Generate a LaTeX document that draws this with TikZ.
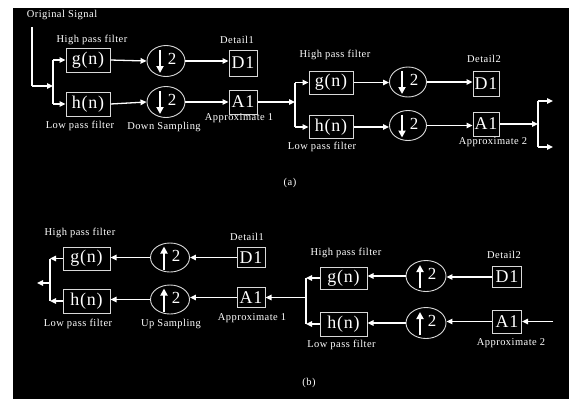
\documentclass[tikz,border=0pt]{standalone}
\usepackage{fontspec}
\setmainfont{Liberation Serif}
\newfontfamily\lblfont[LetterSpace=4.5]{Liberation Serif}
\newfontfamily\boxfont[LetterSpace=4]{Liberation Serif}
\usetikzlibrary{arrows.meta,shapes.geometric,calc}
\begin{document}
\begin{tikzpicture}[x=1bp,y=-1bp,
  box/.style={draw=white!85!black, line width=1bp, inner sep=0pt, text=white, font=\boxfont\fontsize{18}{18}\selectfont},
  sampler/.style={ellipse, draw=white!85!black, line width=0.9bp, minimum width=38bp, minimum height=31bp, inner sep=0pt},
  lbl/.style={text=white, inner sep=0pt, font=\lblfont\fontsize{10.5}{10.5}\selectfont},
  digit/.style={text=white, inner sep=0pt, font=\fontsize{17}{17}\selectfont},
  wire/.style={draw=white, line width=1.3bp},
  arr/.style={wire, -{Triangle[length=6bp,width=5.5bp]}},
  glyph/.style={draw=white, line width=1.8bp, -{Triangle[length=7bp,width=7bp]}}
]
\newcommand\mydown[1]{%
  \draw[glyph] ($(#1)+(-6,-11)$) -- ($(#1)+(-6,12)$);
  \node[digit] (#1two) at ($(#1)+(6,-2)$) {2};}
\newcommand\myup[1]{%
  \draw[glyph] ($(#1)+(-6,12)$) -- ($(#1)+(-6,-11)$);
  \node[digit] (#1two) at ($(#1)+(6,-2)$) {2};}
\fill[white] (0,0) rectangle (569,399);
\fill[black] (13,8) rectangle (569,399);
\useasboundingbox (0,0) rectangle (569,399);

% ---------------- (a) ----------------
\node[lbl] (orig) at (62,15) {Original Signal};
\coordinate (o0) at (32,27);
\coordinate (o1) at (32,86);
\coordinate (s1m) at (53,86);
\coordinate (s1t) at (53,60);
\coordinate (s1b) at (53,104);
\node[box, minimum width=44bp, minimum height=24bp] (g1) at (88,60) {g(n)};
\node[box, minimum width=44bp, minimum height=24bp] (h1) at (88,104) {h(n)};
\node[sampler] (c1) at (166,61) {};
\node[sampler] (c2) at (166,102) {};
\mydown{c1}
\mydown{c2}
\node[box, minimum width=28bp, minimum height=26bp] (d1a) at (243,63) {D1};
\node[box, minimum width=28bp, minimum height=24bp] (a1a) at (243,102) {A1};
\draw[wire] (o0) -- (o1);
\draw[arr] (o1) -- (s1m);
\draw[wire] (s1t) -- (s1b);
\draw[arr] (s1t) -- (g1.west);
\draw[arr] (s1b) -- (h1.west);
\draw[arr] (g1.east) -- (c1.west);
\draw[arr] (h1.east) -- (c2.west);
\draw[arr] (c1.east) -- (c1.east -| d1a.west);
\draw[arr] (c2.east) -- (a1a.west);
\node[lbl] (hp1) at (92,40) {High pass filter};
\node[lbl] (lp1) at (80,126) {Low pass filter};
\node[lbl] (ds1) at (164,127) {Down Sampling};
\node[lbl] (det1) at (237,40) {Detail1};
\node[lbl] (ap1) at (239,118.5) {Approximate 1};

\coordinate (s2m) at (295,102);
\coordinate (s2t) at (295,82.5);
\coordinate (s2b) at (295,127);
\node[box, minimum width=44bp, minimum height=23bp] (g2) at (331,82.5) {g(n)};
\node[box, minimum width=44bp, minimum height=23bp] (h2) at (331,127) {h(n)};
\node[sampler, minimum width=37bp, minimum height=30bp] (c3) at (408,82) {};
\node[sampler, minimum width=37bp, minimum height=30bp] (c4) at (408,125.5) {};
\mydown{c3}
\mydown{c4}
\node[box, minimum width=26bp, minimum height=25bp] (d1b) at (486,84) {D1};
\node[box, minimum width=26bp, minimum height=24bp] (a1b) at (486,124) {A1};
\draw[arr] (a1a.east) -- (s2m);
\draw[wire] (s2t) -- (s2b);
\draw[arr] (s2t) -- (g2.west);
\draw[arr] (s2b) -- (h2.west);
\draw[arr] (g2.east) -- (g2.east -| c3.west);
\draw[arr] (h2.east) -- (h2.east -| c4.west);
\draw[arr] (c3.east) -- (c3.east -| d1b.west);
\draw[arr] (c4.east) -- (c4.east -| a1b.west);
\coordinate (s3m) at (538,124);
\coordinate (s3t) at (538,101);
\coordinate (s3b) at (538,147);
\coordinate (e3t) at (553,101);
\coordinate (e3b) at (553,147);
\draw[arr] (a1b.east) -- (s3m);
\draw[wire] (s3t) -- (s3b);
\draw[arr] (s3t) -- (e3t);
\draw[arr] (s3b) -- (e3b);
\node[lbl] (hp2) at (335,55) {High pass filter};
\node[lbl] (lp2) at (322,147) {Low pass filter};
\node[lbl] (det2) at (484,59) {Detail2};
\node[lbl] (ap2) at (493,142.5) {Approximate 2};
\node[lbl] (capa) at (290,183) {(a)};

% ---------------- (b) ----------------
\node[box, minimum width=47bp, minimum height=23bp] (g3) at (86.5,258.5) {g(n)};
\node[box, minimum width=47bp, minimum height=24bp] (h3) at (86.5,301) {h(n)};
\coordinate (m1t) at (50,258.5);
\coordinate (m1b) at (50,301);
\coordinate (m1m) at (50,283);
\coordinate (out) at (37,283);
\draw[arr] (g3.west) -- (m1t);
\draw[arr] (h3.west) -- (m1b);
\draw[wire] (m1t) -- (m1b);
\draw[arr] (m1m) -- (out);
\node[sampler, minimum width=39bp, minimum height=29bp] (c5) at (170,257.5) {};
\node[sampler, minimum width=39bp, minimum height=29bp] (c6) at (170,299.5) {};
\myup{c5}
\myup{c6}
\node[box, minimum width=28bp, minimum height=20bp] (d1c) at (251,257.5) {D1};
\node[box, minimum width=28bp, minimum height=20bp] (a1c) at (251,297.5) {A1};
\draw[arr] (c5.west) -- (c5.west -| g3.east);
\draw[arr] (c6.west) -- (c6.west -| h3.east);
\draw[arr] (d1c.west) -- (d1c.west -| c5.east);
\draw[arr] (a1c.west) -- (a1c.west -| c6.east);
\node[lbl] (hp3) at (80,233) {High pass filter};
\node[lbl] (lp3) at (78,324) {Low pass filter};
\node[lbl] (us1) at (171,324) {Up Sampling};
\node[lbl] (det3) at (247,237) {Detail1};
\node[lbl] (ap3) at (252,318) {Approximate 1};

\node[box, minimum width=47bp, minimum height=22bp] (g4) at (343.5,278) {g(n)};
\node[box, minimum width=47bp, minimum height=24bp] (h4) at (343.5,324) {h(n)};
\coordinate (m2t) at (306,278);
\coordinate (m2b) at (306,324);
\coordinate (m2m) at (306,297.5);
\draw[arr] (g4.west) -- (m2t);
\draw[arr] (h4.west) -- (m2b);
\draw[wire] (m2t) -- (m2b);
\draw[arr] (m2m) -- (a1c.east);
\node[sampler, minimum width=40bp, minimum height=31bp] (c7) at (426,276) {};
\node[sampler, minimum width=40bp, minimum height=31bp] (c8) at (426,323) {};
\myup{c7}
\myup{c8}
\node[box, minimum width=29bp, minimum height=21bp] (d1d) at (507,277) {D1};
\node[box, minimum width=29bp, minimum height=23bp] (a1d) at (507,321.5) {A1};
\coordinate (in) at (553,321.5);
\draw[arr] (c7.west) -- (c7.west -| g4.east);
\draw[arr] (c8.west) -- (c8.west -| h4.east);
\draw[arr] (d1d.west) -- (d1d.west -| c7.east);
\draw[arr] (a1d.west) -- (a1d.west -| c8.east);
\draw[arr] (in) -- (a1d.east);
\node[lbl] (hp4) at (346,253) {High pass filter};
\node[lbl] (lp4) at (341.5,345) {Low pass filter};
\node[lbl] (det4) at (504,255) {Detail2};
\node[lbl] (ap4) at (511,343) {Approximate 2};
\node[lbl] (capb) at (309,383) {(b)};
\end{tikzpicture}
\end{document}
